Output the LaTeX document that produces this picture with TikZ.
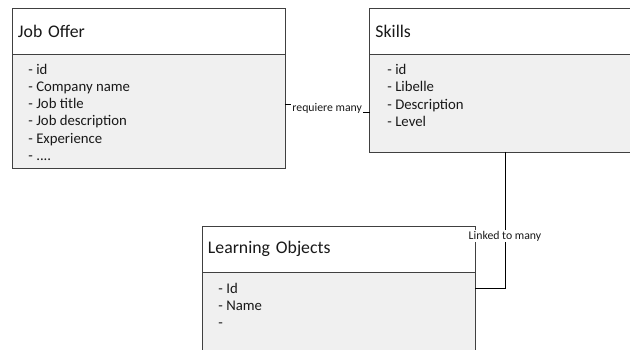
\documentclass[tikz,border=0pt]{standalone}
\usepackage{fontspec}
\setmainfont{Carlito}
\usetikzlibrary{positioning,calc}
\definecolor{bodygray}{HTML}{F0F0F0}
\definecolor{edgegray}{HTML}{404040}
\tikzset{
  every node/.style={transform shape,text=black!90},
  hdr/.style={anchor=north west,rectangle,draw=edgegray,fill=white,outer sep=0pt,inner xsep=0.12cm,minimum height=0.92cm,align=left,font=\fontsize{10.1}{12}\selectfont},
  body/.style={anchor=north west,rectangle,draw=edgegray,fill=bodygray,outer sep=0pt},
  attr/.style={anchor=north west,inner sep=0pt,align=left,font=\fontsize{8.4}{9.8}\selectfont},
  rel/.style={fill=white,inner sep=0.6pt,font=\fontsize{6.7}{8}\selectfont},
  mythin/.style={line width=0.5pt}
}

\begin{document}
\begin{tikzpicture}[x=0.02cm,y=-0.02cm,mythin]
    \useasboundingbox (0,0) rectangle (630,349);
    \clip (0,0) rectangle (630,349);

    \node at (12, 8) [hdr, text width=5.22cm] (offer) {Job Offer};
    \node at (12, 54) [body, minimum width=5.46cm, minimum height=2.28cm] (offerbody) {};
    \node at (28, 63.5) [attr] (offerattr) {- id\\- Company name\\- Job title\\- Job description\\- Experience\\- ....};

    \node at (369.5, 8) [hdr, text width=5.18cm] (skill) {Skills};
    \node at (369.5, 54) [body, minimum width=5.42cm, minimum height=1.96cm] (skillbody) {};
    \node at (387, 64) [attr] (skillattr) {- id\\- Libelle\\- Description\\- Level};

    \node at (202, 226) [hdr, text width=5.22cm] (learn) {Learning Objects};
    \node at (202, 272) [body, minimum width=5.46cm, minimum height=1.96cm] (learnbody) {};
    \node at (218, 282.5) [attr] (learnattr) {- Id\\- Name\\-};

    \coordinate (reqout) at ([yshift=0.14cm]offerbody.east);
    \coordinate (reqin) at ([yshift=-0.18cm]skillbody.west);
    \coordinate (linkin) at ([yshift=-0.32cm]learnbody.north east);

    \draw (reqout) -| ($(reqout)!0.5!(reqin)$) node[rel] (req) {requiere many} |- (reqin);
    \draw (skillbody.south) |- node[rel, pos=0.31] (link) {Linked to many} (linkin);

\end{tikzpicture}
\end{document}
